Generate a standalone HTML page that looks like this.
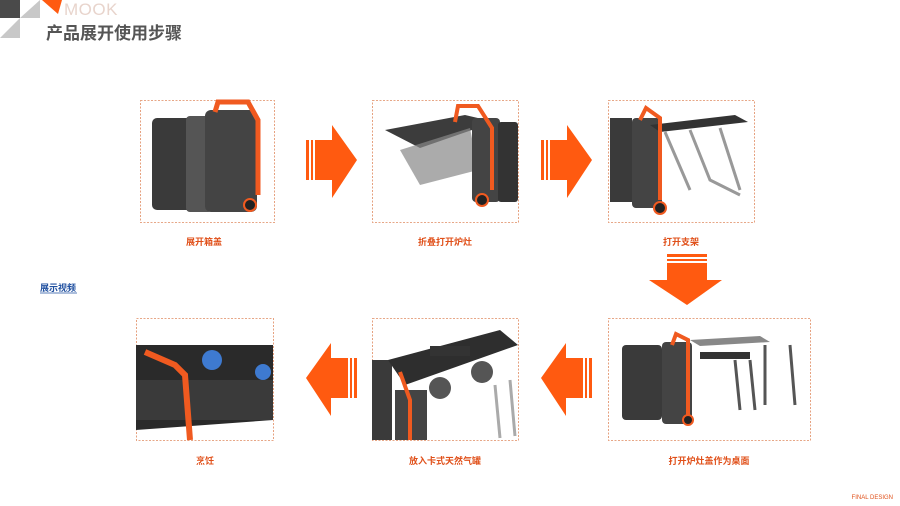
<!DOCTYPE html>
<html><head><meta charset="utf-8"><style>
html,body{margin:0;padding:0;background:#fff;}
svg{display:block;font-family:"Liberation Sans","Noto Sans CJK SC",sans-serif;}
</style></head><body>
<svg width="900" height="506" viewBox="0 0 900 506" xmlns="http://www.w3.org/2000/svg">
<defs>
<g id="ar">
<rect x="0" y="15" width="3" height="40" fill="#ff5a10"/>
<rect x="5" y="15" width="2" height="40" fill="#ff5a10"/>
<polygon points="9,15 26,15 26,0 51,35 26,73 26,55 9,55" fill="#ff5a10"/>
</g>
</defs>
<rect x="0" y="0" width="20" height="18" fill="#4a4a4a"/>
<polygon points="0,38 20,18 20,38" fill="#c8c8c8"/>
<polygon points="20,18 40,0 40,18" fill="#c8c8c8"/>
<polygon points="42,0 62,0 58,14" fill="#ff5a10"/>
<text x="64" y="15" font-size="17" fill="#e8d4cc" font-weight="normal" letter-spacing="0.5">MOOK</text>
<text x="46" y="39" font-size="17" font-weight="bold" fill="#555">产品展开使用步骤</text>
<g fill="none" stroke="#e08a60" stroke-width="0.8" stroke-dasharray="2,1.5">
<rect x="140.5" y="100.5" width="134" height="122"/>
<rect x="372.5" y="100.5" width="146" height="122"/>
<rect x="608.5" y="100.5" width="146" height="122"/>
<rect x="608.5" y="318.5" width="202" height="122"/>
<rect x="372.5" y="318.5" width="146" height="122"/>
<rect x="136.5" y="318.5" width="137" height="122"/>
</g>
<rect x="152" y="118" width="40" height="92" rx="5" fill="#3a3a3a"/>
<rect x="186" y="116" width="26" height="96" rx="4" fill="#555"/>
<rect x="205" y="110" width="52" height="102" rx="6" fill="#444"/>
<path d="M215 112 L218 102 L248 102 L258 120 L258 195" fill="none" stroke="#f05a20" stroke-width="5"/>
<circle cx="250" cy="205" r="6" fill="#222" stroke="#f05a20" stroke-width="2"/>
<polygon points="385,130 465,115 495,122 420,148" fill="#3c3c3c"/>
<polygon points="400,150 470,128 478,170 420,185" fill="#888" opacity="0.7"/>
<rect x="472" y="118" width="28" height="84" rx="4" fill="#444"/>
<rect x="498" y="122" width="20" height="80" rx="3" fill="#333"/>
<path d="M455 122 L458 106 L478 106 L492 128 L492 190" fill="none" stroke="#f05a20" stroke-width="4"/>
<circle cx="482" cy="200" r="6" fill="#222" stroke="#f05a20" stroke-width="2"/>
<rect x="610" y="118" width="22" height="84" fill="#3a3a3a"/>
<rect x="632" y="118" width="30" height="90" rx="4" fill="#444"/>
<polygon points="650,125 735,115 748,122 660,132" fill="#333"/>
<path d="M665 132 L690 190 M690 130 L710 180 L740 195 M720 128 L740 190" stroke="#999" stroke-width="3" fill="none"/>
<path d="M640 120 L646 108 L660 118 L660 200" fill="none" stroke="#f05a20" stroke-width="4"/>
<circle cx="660" cy="208" r="6" fill="#222" stroke="#f05a20" stroke-width="2"/>
<rect x="622" y="345" width="40" height="75" rx="4" fill="#3a3a3a"/>
<rect x="662" y="342" width="30" height="82" rx="4" fill="#444"/>
<path d="M672 345 L676 334 L688 340 L688 418" fill="none" stroke="#f05a20" stroke-width="4"/>
<circle cx="688" cy="420" r="5" fill="#222" stroke="#f05a20" stroke-width="2"/>
<polygon points="690,340 760,336 770,342 700,346" fill="#888"/>
<rect x="700" y="352" width="50" height="7" fill="#333"/>
<path d="M735 360 L740 410 M750 360 L755 410 M765 345 L765 405 M790 345 L795 405" stroke="#555" stroke-width="3"/>
<rect x="372" y="360" width="20" height="80" fill="#3a3a3a"/>
<polygon points="388,360 500,330 518,345 405,385" fill="#2e2e2e"/>
<rect x="430" y="346" width="40" height="10" fill="#333"/>
<circle cx="440" cy="388" r="11" fill="#555"/><circle cx="482" cy="372" r="11" fill="#555"/>
<rect x="395" y="390" width="32" height="50" fill="#444"/>
<path d="M400 372 L410 400 L410 440" fill="none" stroke="#f05a20" stroke-width="4"/>
<path d="M495 385 L500 438 M510 380 L515 436" stroke="#aaa" stroke-width="3"/>
<polygon points="136,345 273,345 273,420 136,430" fill="#2a2a2a"/>
<rect x="136" y="380" width="137" height="40" fill="#3a3a3a"/>
<circle cx="212" cy="360" r="10" fill="#3e7ad0"/><circle cx="263" cy="372" r="8" fill="#3e7ad0"/>
<path d="M145 352 L175 365 L185 375 L190 440" fill="none" stroke="#f05a20" stroke-width="6"/>
<use href="#ar" x="306" y="125"/>
<use href="#ar" x="541" y="125"/>
<use href="#ar" transform="translate(357,343) scale(-1,1)"/>
<use href="#ar" transform="translate(592,343) scale(-1,1)"/>
<use href="#ar" transform="translate(722,254) rotate(90)"/>
<g font-size="9" fill="#e0501a" text-anchor="middle" font-weight="bold">
<text x="204" y="245">展开箱盖</text>
<text x="445" y="245">折叠打开炉灶</text>
<text x="681" y="245">打开支架</text>
<text x="709" y="464">打开炉灶盖作为桌面</text>
<text x="445" y="464">放入卡式天然气罐</text>
<text x="205" y="464">烹饪</text>
</g>
<text x="40" y="291" font-size="9" fill="#2050a0" font-weight="bold">展示视频</text>
<line x1="40" y1="293" x2="77" y2="293" stroke="#2050a0" stroke-width="0.8"/>
<text x="893" y="499" font-size="6" fill="#e0501a" text-anchor="end">FINAL DESIGN</text>
</svg>
</body></html>
